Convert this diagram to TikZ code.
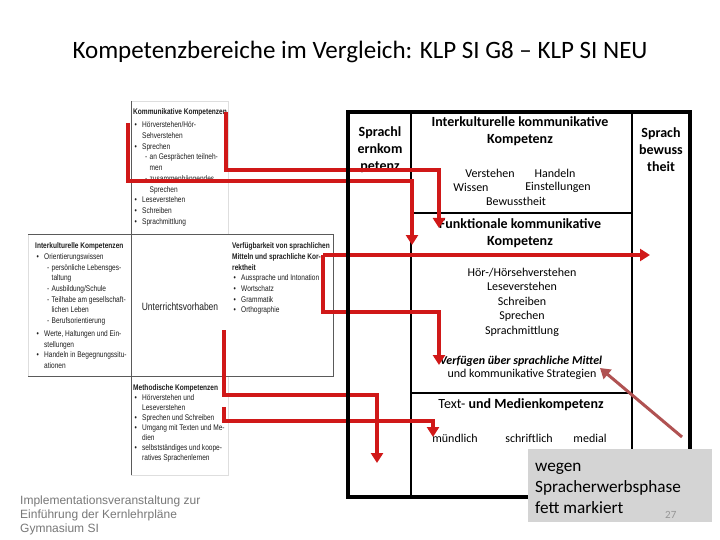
\documentclass[tikz,border=0pt]{standalone}
\usepackage{fontspec}
\setmainfont{Carlito}
\newfontfamily\arialn[FakeStretch=0.8]{Liberation Sans}
\newfontfamily\arialf{Liberation Sans}
\usetikzlibrary{arrows.meta}
\definecolor{redpath}{RGB}{208,24,24}
\definecolor{pointer}{RGB}{176,82,82}
\definecolor{boxgray}{RGB}{212,212,212}
\definecolor{footgray}{RGB}{120,120,120}
\definecolor{imgline}{RGB}{90,90,90}
\definecolor{imgfaint}{RGB}{222,222,222}
\definecolor{imgtext}{RGB}{30,30,30}
\newcommand\bl{\hspace*{1.5pt}\makebox[7.5pt][l]{•}}
\newcommand\ii{\hspace*{9pt}}
\newcommand\ds{\hspace*{12pt}\makebox[4.5pt][l]{-}}
\newcommand\jj{\hspace*{16.5pt}}
\begin{document}
\begin{tikzpicture}[x=1pt,y=-1pt,
  redarrow/.style={draw=redpath, line width=3.6pt, line join=miter, -{Triangle[width=12pt,length=10pt]}},
  tiny/.style={inner sep=0, anchor=base west, text=imgtext, font=\arialn\fontsize{8.2}{10.7}\selectfont},
  hd/.style={inner sep=0, align=center, font=\bfseries\fontsize{14}{17}\selectfont},
  rg/.style={inner sep=0, align=center, font=\fontsize{12}{14.5}\selectfont},
  tableline/.style={line width=1.2pt},
  tableborder/.style={line width=3.6pt}
]
\useasboundingbox (0,0) rectangle (720,540);
\fill[white] (0,0) rectangle (720,540);

% title
\node[inner sep=0, font=\fontsize{25}{29}\selectfont] (title) at (360,52) {Kompetenzbereiche im Vergleich: KLP SI G8 – KLP SI NEU};

% ---- left embedded table ----
\draw[imgfaint, line width=0.8pt] (131,101) -- (228,101) -- (228,234);
\draw[imgfaint, line width=0.8pt] (228,376) -- (228,475) -- (131,475);
\draw[imgfaint, line width=0.8pt] (28,234) -- (28,376);
\draw[imgline, line width=0.8pt] (131,101) -- (131,475);
\draw[imgline, line width=0.8pt] (28,234) -- (333,234) -- (333,376) -- (28,376);

\node[tiny] (kk) at (133,114.7) {\begin{tabular}[t]{@{}l@{}}
\textbf{Kommunikative Kompetenzen}\\[2.5pt]
\bl Hörverstehen/Hör-\\
\ii Sehverstehen\\
\bl Sprechen\\
\ds an Gesprächen teilneh-\\
\jj men\\
\ds zusammenhängendes\\
\jj Sprechen\\
\bl Leseverstehen\\
\bl Schreiben\\
\bl Sprachmittlung
\end{tabular}};

\node[tiny] (ik) at (35,248.7) {\begin{tabular}[t]{@{}l@{}}
\textbf{Interkulturelle Kompetenzen}\\
\bl Orientierungswissen\\
\ds persönliche Lebensges-\\
\jj taltung\\
\ds Ausbildung/Schule\\
\ds Teilhabe am gesellschaft-\\
\jj lichen Leben\\
\ds Berufsorientierung\\[2pt]
\bl Werte, Haltungen und Ein-\\
\ii stellungen\\
\bl Handeln in Begegnungssitu-\\
\ii ationen
\end{tabular}};

\node[inner sep=0, text=imgtext, font=\arialn\fontsize{10.6}{12}\selectfont] (uv) at (180,307) {Unterrichtsvorhaben};

\node[tiny] (vs) at (232,248.7) {\begin{tabular}[t]{@{}l@{}}
\textbf{Verfügbarkeit von sprachlichen}\\
\textbf{Mitteln und sprachliche Kor-}\\
\textbf{rektheit}\\
\bl Aussprache und Intonation\\
\bl Wortschatz\\
\bl Grammatik\\
\bl Orthographie
\end{tabular}};

\node[tiny, font=\arialn\fontsize{8.2}{10}\selectfont] (mk) at (133,390.7) {\begin{tabular}[t]{@{}l@{}}
\textbf{Methodische Kompetenzen}\\
\bl Hörverstehen und\\
\ii Leseverstehen\\
\bl Sprechen und Schreiben\\
\bl Umgang mit Texten und Me-\\
\ii dien\\
\bl selbstständiges und koope-\\
\ii ratives Sprachenlernen
\end{tabular}};

% ---- right table (thin lines) ----
\draw[tableline] (411,112) -- (411,497);
\draw[tableline] (632,112) -- (632,497);
\draw[tableline] (411,213) -- (632,213);
\draw[tableline] (411,393) -- (632,393);

\node[hd] (slk) at (380,150) {Sprachl\\ernkom\\petenz};
\node[hd] (sbw) at (661,149.5) {Sprach\\bewuss\\theit};
\node[hd] (ikk) at (520,131.5) {Interkulturelle kommunikative\\Kompetenz};
\node[rg] (w1) at (490,173) {Verstehen};
\node[rg] (w2) at (555,173) {Handeln};
\node[rg] (w3) at (471,187) {Wissen};
\node[rg] (w4) at (558,187) {Einstellungen};
\node[rg] (w5) at (516,201) {Bewusstheit};
\node[hd] (fkk) at (520,233.5) {Funktionale kommunikative\\Kompetenz};
\node[rg] (skills) at (522,302) {Hör-/Hörsehverstehen\\Leseverstehen\\Schreiben\\Sprechen\\Sprachmittlung};
\node[rg, font=\bfseries\itshape\fontsize{12}{14.5}\selectfont] (vue) at (521,361) {Verfügen über sprachliche Mittel};
\node[rg] (kst) at (522,374) {und kommunikative Strategien};
\node[hd, font=\fontsize{14}{17}\selectfont] (tmk) at (521,405) {Text- \textbf{und Medienkompetenz}};
\node[rg] (m1) at (455,438) {mündlich};
\node[rg] (m2) at (529,438) {schriftlich};
\node[rg] (m3) at (590,438) {medial};

% ---- red connectors ----
\coordinate (a1s) at (226,112); \coordinate (a1b) at (226,170); \coordinate (a1c) at (439,170); \coordinate (a1e) at (439,228);
\coordinate (a2s) at (128,123); \coordinate (a2b) at (128,181); \coordinate (a2c) at (412,181); \coordinate (a2e) at (412,245);
\coordinate (a3s) at (323,255); \coordinate (a3e) at (650,255);
\coordinate (a4b) at (323,312); \coordinate (a4c) at (439,312); \coordinate (a4e) at (439,365);
\coordinate (a5s) at (224,330); \coordinate (a5b) at (224,395); \coordinate (a5c) at (377,395); \coordinate (a5e) at (377,463);
\coordinate (a6s) at (224,407); \coordinate (a6b) at (224,421); \coordinate (a6c) at (433,421); \coordinate (a6e) at (433,437);

\draw[redarrow] (a1s) -- (a1b) -- (a1c) -- (a1e);
\draw[redarrow] (a2s) -- (a2b) -- (a2c) -- (a2e);
\draw[redarrow] (a3s) -- (a3e);
\draw[redarrow] (a3s) -- (a4b) -- (a4c) -- (a4e);
\draw[redarrow] (a5s) -- (a5b) -- (a5c) -- (a5e);
\draw[redarrow] (a6s) -- (a6b) -- (a6c) -- (a6e);

% thick outer border of right table
\draw[tableborder] (348,497) -- (348,112) -- (690,112) -- (690,497) -- cycle;

% pointer arrow
\coordinate (ps) at (682,437); \coordinate (pe) at (600,368);
\draw[pointer, line width=3pt, -{Triangle[width=12pt,length=10pt]}] (ps) -- (pe);

% gray note box
\node[fill=boxgray, inner sep=0, minimum width=184pt, minimum height=73pt, anchor=north west] (gbox) at (528,449) {};
\node[inner sep=0, anchor=base west, font=\fontsize{17.2}{21}\selectfont] (gtext) at (535,471) {\begin{tabular}[t]{@{}l@{}}wegen\\Spracherwerbsphase\\fett markiert\end{tabular}};
\node[inner sep=0, anchor=base west, text={rgb,255:red,150;green,150;blue,150}, font=\fontsize{11}{13}\selectfont] (pg) at (665,518) {27};

% footer
\node[inner sep=0, anchor=base west, text=footgray, font=\arialf\fontsize{12}{14}\selectfont] (foot) at (20,504) {\begin{tabular}[t]{@{}l@{}}Implementationsveranstaltung zur\\Einführung der Kernlehrpläne\\Gymnasium SI\end{tabular}};
\end{tikzpicture}
\end{document}
